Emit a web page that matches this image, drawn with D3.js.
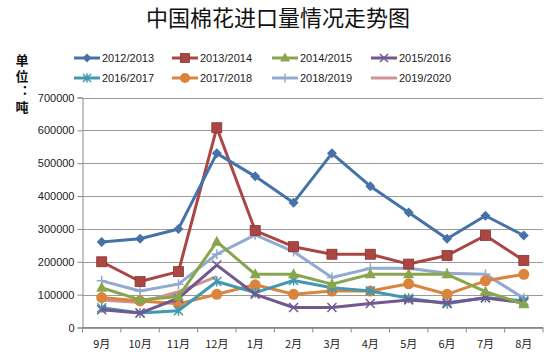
<!DOCTYPE html>
<html><head><meta charset="utf-8">
<script src="https://cdn.jsdelivr.net/npm/d3@7"></script>
<style>body{margin:0;background:#fff;}svg{display:block;font-family:"Noto Sans CJK SC","Liberation Sans",sans-serif;}</style>
</head><body><svg id="c" width="550" height="352"></svg>
<script>
const months = ["9月","10月","11月","12月","1月","2月","3月","4月","5月","6月","7月","8月"];
const yTicks = [0,100000,200000,300000,400000,500000,600000,700000];
const seriesNames = ["2012/2013","2013/2014","2014/2015","2015/2016","2016/2017","2017/2018","2018/2019","2019/2020"];
const s2012 = [260000,270000,300000,530000,460000,380000,530000,430000,350000,270000,340000,280000];
const s2013 = [200000,140000,170000,608000,295000,246000,223000,223000,193000,219000,280000,204000];
const s2014 = [121000,84000,94000,261000,162000,162000,132000,162000,162000,162000,109000,71000];
const s2015 = [54000,44000,89000,190000,101000,61000,61000,73000,84000,75000,90000,75000];
const s2016 = [60000,44000,51000,140000,106000,143000,121000,111000,89000,72000,91000,81000];
const s2017 = [91000,81000,72000,101000,130000,101000,111000,111000,133000,101000,142000,162000];
const s2018 = [142000,111000,132000,223000,282000,231000,152000,180000,180000,165000,162000,89000];
const s2019 = [84000,76000,109000,155000];
const seriesValues = [s2012,s2013,s2014,s2015,s2016,s2017,s2018,s2019];
const colors = ["#4572A7","#AA4643","#89A54E","#71588F","#4198AF","#DB843D","#93A9CF","#D19392"];
const markers = ["diamond","square","triangle","x","asterisk","circle","plus","none"];

const svg = d3.select("#c");
const pL = 82.5, pR = 543, pT = 97.5, pB = 327.5;
const x = d3.scaleBand().domain(months).range([pL, pR]);
const y = d3.scaleLinear().domain([0,700000]).range([pB, pT]);

svg.append("text").attr("x",278).attr("y",26).attr("text-anchor","middle")
  .attr("font-size",22).attr("fill","#111").text("中国棉花进口量情况走势图");

svg.append("text").attr("x",22).attr("y",54)
  .style("writing-mode","vertical-rl").style("text-orientation","upright")
  .style("font-feature-settings","'vert' 0").style("letter-spacing","2.5px")
  .attr("font-size",13).attr("font-weight","bold").attr("fill","#111").text("单位：吨");

svg.append("g").selectAll("line").data(yTicks).join("line")
  .attr("x1",pL).attr("x2",pR).attr("y1",d=>Math.round(y(d))+0.5).attr("y2",d=>Math.round(y(d))+0.5)
  .attr("stroke","#9a9a9a").attr("stroke-width",1);

const yAxis = svg.append("g").attr("transform",`translate(${pL},0)`)
  .call(d3.axisLeft(y).tickValues(yTicks).tickSize(5).tickPadding(3).tickFormat(d3.format("d")));
yAxis.selectAll("text").attr("font-size",11).attr("fill","#222").attr("font-family","Liberation Sans, sans-serif");
yAxis.selectAll("line,path").attr("stroke","#888");

const xg = svg.append("g").attr("transform",`translate(0,${pB})`);
xg.append("line").attr("x1",pL).attr("x2",pR).attr("stroke","#888");
const bounds = months.map(m=>x(m)).concat([pR]);
xg.selectAll("line.t").data(bounds).join("line").attr("class","t")
  .attr("x1",d=>d).attr("x2",d=>d).attr("y1",0).attr("y2",5).attr("stroke","#888");
xg.selectAll("text").data(months).join("text")
  .attr("x",d=>x(d)+x.bandwidth()/2).attr("y",20).attr("text-anchor","middle")
  .attr("font-size",11).attr("fill","#222").text(d=>d);

function drawMarker(g, type, cx, cy, color, s){
  s = s||1;
  if(type==="diamond"){
    g.append("path").attr("d",`M${cx},${cy-5*s}L${cx+5*s},${cy}L${cx},${cy+5*s}L${cx-5*s},${cy}Z`).attr("fill",color);
  } else if(type==="square"){
    g.append("rect").attr("x",cx-5*s).attr("y",cy-5*s).attr("width",10*s).attr("height",10*s).attr("fill",color).attr("stroke","#8c3431").attr("stroke-width",0.8);
  } else if(type==="triangle"){
    g.append("path").attr("d",`M${cx},${cy-6*s}L${cx+5.5*s},${cy+4*s}L${cx-5.5*s},${cy+4*s}Z`).attr("fill",color);
  } else if(type==="x"){
    g.append("path").attr("d",`M${cx-4.5*s},${cy-4.5*s}L${cx+4.5*s},${cy+4.5*s}M${cx-4.5*s},${cy+4.5*s}L${cx+4.5*s},${cy-4.5*s}`).attr("stroke",color).attr("stroke-width",1.5);
  } else if(type==="asterisk"){
    g.append("path").attr("d",`M${cx-4.5*s},${cy-4.5*s}L${cx+4.5*s},${cy+4.5*s}M${cx-4.5*s},${cy+4.5*s}L${cx+4.5*s},${cy-4.5*s}M${cx},${cy-5*s}L${cx},${cy+5*s}`).attr("stroke",color).attr("stroke-width",1.5);
  } else if(type==="circle"){
    g.append("circle").attr("cx",cx).attr("cy",cy).attr("r",5.5*s).attr("fill",color);
  } else if(type==="plus"){
    g.append("path").attr("d",`M${cx-5*s},${cy}L${cx+5*s},${cy}M${cx},${cy-5*s}L${cx},${cy+5*s}`).attr("stroke",color).attr("stroke-width",1.5);
  }
}

const line = d3.line().x((d,i)=>x(months[i])+x.bandwidth()/2).y(d=>y(d));
const drawOrder = [7,6,5,4,3,2,1,0];
drawOrder.forEach(k=>{
  const g = svg.append("g");
  g.append("path").attr("d",line(seriesValues[k])).attr("fill","none").attr("stroke",colors[k])
    .attr("stroke-width",3).attr("stroke-linejoin","round");
  seriesValues[k].forEach((v,i)=>drawMarker(g, markers[k], x(months[i])+x.bandwidth()/2, y(v), colors[k]));
});

const colX = [74,172,272,371];
const rowY = [58,78];
seriesNames.forEach((n,i)=>{
  const cx = colX[i%4], cy = rowY[Math.floor(i/4)];
  const g = svg.append("g");
  g.append("line").attr("x1",cx).attr("x2",cx+26).attr("y1",cy).attr("y2",cy).attr("stroke",colors[i]).attr("stroke-width",3);
  drawMarker(g, markers[i], cx+13, cy, colors[i], 0.9);
  g.append("text").attr("x",cx+28).attr("y",cy+4).attr("font-size",11).attr("fill","#222")
    .attr("font-family","Liberation Sans, sans-serif").text(n);
});
</script></body></html>
